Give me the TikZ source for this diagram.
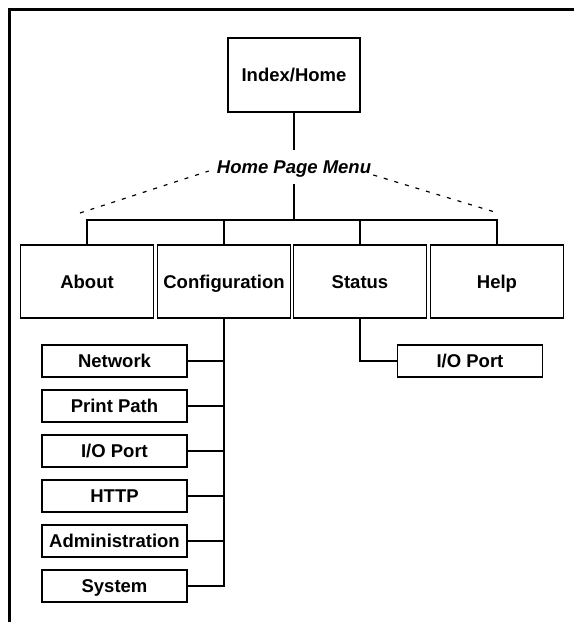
\documentclass[tikz,border=0pt]{standalone}
\usepackage{fontspec}
\setmainfont{Liberation Sans}
\begin{document}
\begin{tikzpicture}[x=1pt,y=-1pt,
  lbl/.style={font=\fontsize{18.5}{22}\selectfont\bfseries,text height=13.3pt,text depth=0pt},
  bigbox/.style={draw,line width=1.5pt,lbl,minimum width=133pt,minimum height=73pt,inner sep=0pt},
  subbox/.style={draw,line width=1.5pt,lbl,minimum width=145pt,minimum height=32pt,inner sep=0pt},
  conn/.style={line width=1.5pt},
  dsh/.style={line width=1.2pt,dash pattern=on 4pt off 7pt}]
\useasboundingbox (0,0) rectangle (574,622);
\draw[line width=3pt] (9,622) -- (9,9.5) -- (574,9.5);
\node[bigbox,minimum width=132pt,minimum height=74pt] (idx) at (294,75) {Index/Home};
\node[lbl,font=\fontsize{18.5}{22}\selectfont\bfseries\itshape,inner sep=0pt,minimum height=33pt] (menu) at (294,167) {Home Page Menu};
\coordinate (bar) at (294,220);
\coordinate (dl) at (80,213);
\coordinate (dr) at (498,213);
\node[bigbox] (about) at (87,281.5) {About};
\node[bigbox] (config) at (224,281.5) {Configuration};
\node[bigbox] (status) at (360,281.5) {Status};
\node[bigbox] (help) at (497,281.5) {Help};
\node[subbox] (sio) at (470,361) {I/O Port};
\node[subbox] (net) at (114.5,361) {Network};
\node[subbox] (pp) at (114.5,406) {Print Path};
\node[subbox] (io) at (114.5,451) {I/O Port};
\node[subbox] (http) at (114.5,496) {HTTP};
\node[subbox] (admin) at (114.5,541) {Administration};
\node[subbox] (sys) at (114.5,586) {System};
\draw[conn] (idx.south) -- (menu.north);
\draw[conn] (menu.south) -- (bar);
\draw[conn] (about.north) |- (bar) -| (help.north);
\draw[conn] (config.north) -- (config.north |- bar);
\draw[conn] (status.north) -- (status.north |- bar);
\draw[dsh] (dl) -- ([xshift=-8pt,yshift=-4pt]menu.west);
\draw[dsh] ([xshift=2pt,yshift=-8pt]menu.east) -- (dr);
\draw[conn] (status.south) |- (sio.west);
\draw[conn] (config.south) |- (sys.east);
\foreach \n in {net,pp,io,http,admin}
  \draw[conn] (\n.east) -- (\n.east -| config.south);
\end{tikzpicture}
\end{document}
